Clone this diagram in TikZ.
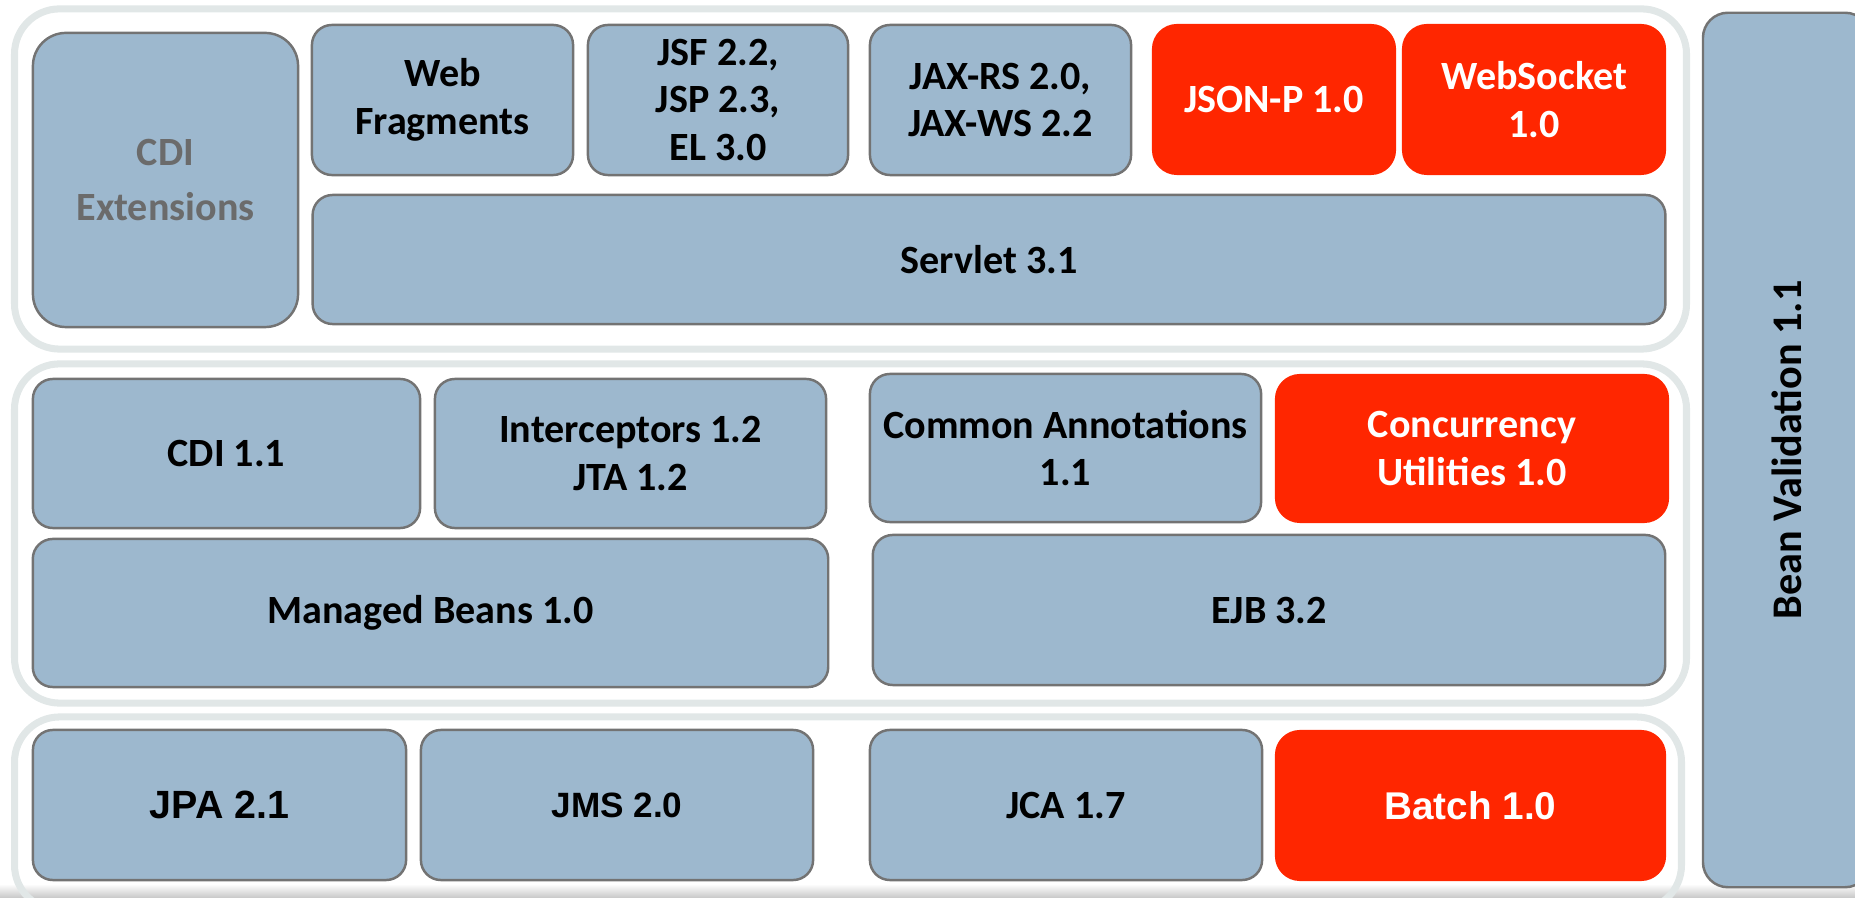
\documentclass[tikz,border=0pt]{standalone}
\usepackage{fontspec}
\setmainfont{Carlito}
\newfontfamily\arialfont{Liberation Sans}
\usepackage{xcolor}
\usepackage{tikz}
\usetikzlibrary{positioning}

\definecolor{jeeblue}{HTML}{9DB8CE}
\definecolor{jeeedge}{HTML}{737373}
\definecolor{jeered}{HTML}{FF2600}
\definecolor{tierline}{HTML}{E1E7E7}
\definecolor{cditext}{HTML}{6B6B6B}

\begin{document}
\begin{tikzpicture}[
  x=0.01cm, y=-0.01cm,
  font=\fontsize{11.4}{13.6}\selectfont\bfseries,  % Calibri-like bold everywhere
  size/.style 2 args={minimum width=#1cm, minimum height=#2cm},
  tier/.style={draw=tierline, line width=2pt, rounded corners=0.45cm, inner sep=0pt},
  box/.style={draw=jeeedge, fill=jeeblue, line width=0.7pt, rounded corners=0.2cm, align=center, inner sep=2pt},
  newbox/.style={fill=jeered, text=white, rounded corners=0.25cm, align=center, inner sep=2pt},
  arial/.style={font=\arialfont\fontsize{#1}{13}\selectfont\bfseries}
]
  \useasboundingbox (0,0) rectangle (1855,898);
  \clip (0,0) rectangle (1855,898);
  \shade[top color=white, bottom color=black!22] (0,884) rectangle (1855,898);

  % tiers
  \node[tier, size={16.71}{3.40}] (webtier) at (850.5,179) {};
  \node[tier, size={16.71}{3.39}] (coretier) at (850.5,533.5) {};
  \node[tier, size={16.66}{1.93}] (datatier) at (848,813.5) {};

  % web tier
  \node[box, rounded corners=0.33cm, text=cditext, font=\fontsize{11.4}{15.5}\selectfont\bfseries,
        size={2.65}{2.94}] (cdiext) at (165.5,180) {CDI\\Extensions};
  \node[box, size={2.61}{1.50}] (webfrag) at (442.5,100) {Web\\Fragments};
  \node[box, size={2.60}{1.50}] (jsf) at (718,100) {JSF 2.2,\\JSP 2.3,\\EL 3.0};
  \node[box, size={2.61}{1.50}] (jaxrs) at (1000.5,100) {JAX-RS 2.0,\\JAX-WS 2.2};
  \node[newbox, size={2.44}{1.51}] (jsonp) at (1274,99.5) {JSON-P 1.0};
  \node[newbox, size={2.64}{1.51}] (websocket) at (1534,99.5) {WebSocket\\1.0};
  \node[box, size={13.52}{1.29}] (servlet) at (989,259.5) {Servlet 3.1};

  % core tier
  \node[box, size={3.87}{1.49}] (cdi) at (226.5,453.5) {CDI 1.1};
  \node[box, size={3.91}{1.49}] (intercept) at (630.5,453.5) {Interceptors 1.2\\JTA 1.2};
  \node[box, size={3.91}{1.48}] (annot) at (1065.5,448) {Common Annotations\\1.1};
  \node[newbox, size={3.94}{1.49}] (concur) at (1472,448.5) {Concurrency\\Utilities 1.0};
  \node[box, size={7.95}{1.48}] (mbeans) at (430.5,613) {Managed Beans 1.0};
  \node[box, size={7.92}{1.50}] (ejb) at (1269,610) {EJB 3.2};

  % data tier
  \node[box, arial=11.2, size={3.73}{1.50}] (jpa) at (219.5,805) {JPA 2.1};
  \node[box, arial=10, size={3.92}{1.50}] (jms) at (617,805) {JMS 2.0};
  \node[box, size={3.92}{1.50}] (jca) at (1066,805) {JCA 1.7};
  \node[newbox, arial=11, size={3.91}{1.51}] (batch) at (1470.5,805.5) {Batch 1.0};

  % spans all tiers
  \node[box, rounded corners=0.25cm, rotate=90, font=\fontsize{12}{14}\selectfont\bfseries,
        size={8.74}{1.67}] (beanval) at (1786.5,450) {Bean Validation 1.1};
\end{tikzpicture}
\end{document}
